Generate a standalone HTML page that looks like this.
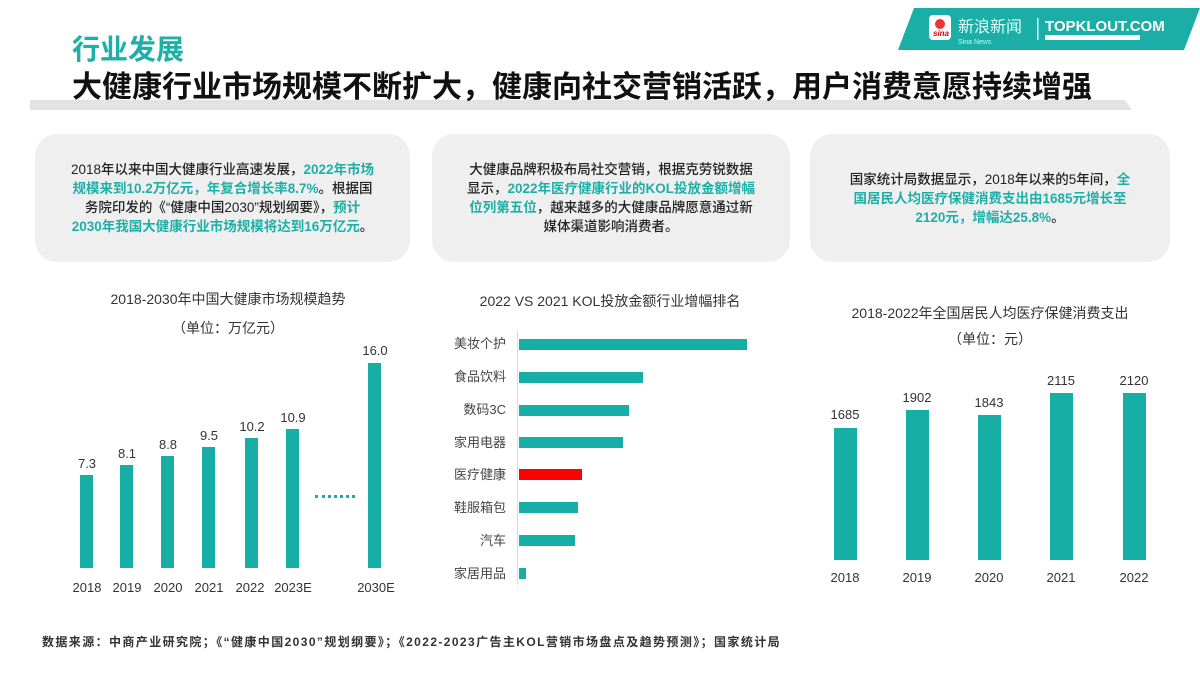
<!DOCTYPE html><html><head><meta charset="utf-8"><style>
body{margin:0;width:1200px;height:675px;background:#fff;position:relative;overflow:hidden;font-family:"Liberation Sans","Noto Sans CJK SC",sans-serif;}
.a{position:absolute;white-space:nowrap}
.card{position:absolute;background:#efefef;border-radius:22px;top:134px;height:128px;display:flex;align-items:center;justify-content:center;text-align:center;font-size:13.5px;line-height:19px;color:#222;font-weight:500}
.t{color:#1eafa7;font-weight:bold}
.bar{position:absolute;background:#17aea5}
.lbl{position:absolute;font-size:13px;color:#333;transform:translateX(-50%)}
.ct{position:absolute;font-size:14px;color:#333;transform:translateX(-50%);white-space:nowrap}
</style></head><body>
<svg class="a" style="left:0;top:0" width="1200" height="120">
<polygon points="914,8 1200,8 1184,50 898,50" fill="#1aaea6"/>
<rect x="929" y="15" width="22" height="25" rx="4" fill="#fff"/>
<circle cx="940" cy="24" r="5" fill="#e33"/>
<text x="933" y="36" font-size="8" fill="#c00" font-style="italic" font-weight="bold" font-family="Liberation Sans">sina</text>
<text x="958" y="32" font-size="16" fill="#dff" font-family="Noto Sans CJK SC">新浪新闻</text>
<text x="958" y="44" font-size="7" fill="#bfe" font-family="Liberation Sans">Sina News</text>
<rect x="1037" y="18" width="1.5" height="22" fill="#dff"/>
<text x="1045" y="31" font-size="15" fill="#fff" font-weight="bold" font-family="Liberation Sans">TOPKLOUT.COM</text>
<rect x="1045" y="35" width="95" height="5" fill="#fff"/>
<polygon points="30,100 1125,100 1132,110 30,110" fill="#e3e3e3"/>
</svg>
<div class="a" style="left:72px;top:28px;font-size:28px;font-weight:bold;color:#1eafa7">行业发展</div>
<div class="a" style="left:72px;top:62px;font-size:30px;font-weight:bold;color:#111">大健康行业市场规模不断扩大，健康向社交营销活跃，用户消费意愿持续增强</div>
<div class="card" style="left:35px;width:375px"><div>2018年以来中国大健康行业高速发展，<span class="t">2022年市场<br>规模来到10.2万亿元，年复合增长率8.7%</span>。根据国<br>务院印发的《“健康中国2030”规划纲要》，<span class="t">预计<br>2030年我国大健康行业市场规模将达到16万亿元</span>。</div></div>
<div class="card" style="left:432px;width:358px"><div>大健康品牌积极布局社交营销，根据克劳锐数据<br>显示，<span class="t">2022年医疗健康行业的KOL投放金额增幅<br>位列第五位</span>，越来越多的大健康品牌愿意通过新<br>媒体渠道影响消费者。</div></div>
<div class="card" style="left:810px;width:360px"><div>国家统计局数据显示，2018年以来的5年间，<span class="t">全<br>国居民人均医疗保健消费支出由1685元增长至<br>2120元，增幅达25.8%</span>。</div></div>

<div class="ct" style="left:228px;top:289px">2018-2030年中国大健康市场规模趋势</div>
<div class="ct" style="left:228px;top:318px">（单位：万亿元）</div>
<div class="bar" style="left:80px;top:475px;width:13px;height:93px"></div><div class="lbl" style="left:87px;top:456px">7.3</div><div class="lbl" style="left:87px;top:580px">2018</div>
<div class="bar" style="left:120px;top:465px;width:13px;height:103px"></div><div class="lbl" style="left:127px;top:446px">8.1</div><div class="lbl" style="left:127px;top:580px">2019</div>
<div class="bar" style="left:161px;top:456px;width:13px;height:112px"></div><div class="lbl" style="left:168px;top:437px">8.8</div><div class="lbl" style="left:168px;top:580px">2020</div>
<div class="bar" style="left:202px;top:447px;width:13px;height:121px"></div><div class="lbl" style="left:209px;top:428px">9.5</div><div class="lbl" style="left:209px;top:580px">2021</div>
<div class="bar" style="left:245px;top:438px;width:13px;height:130px"></div><div class="lbl" style="left:252px;top:419px">10.2</div><div class="lbl" style="left:250px;top:580px">2022</div>
<div class="bar" style="left:286px;top:429px;width:13px;height:139px"></div><div class="lbl" style="left:293px;top:410px">10.9</div><div class="lbl" style="left:293px;top:580px">2023E</div>
<div class="bar" style="left:368px;top:363px;width:13px;height:205px"></div><div class="lbl" style="left:375px;top:343px">16.0</div><div class="lbl" style="left:376px;top:580px">2030E</div>
<div class="a" style="left:315px;top:495px;width:40px;border-top:3px dotted #17aea5"></div>

<div class="ct" style="left:610px;top:291px">2022 VS 2021 KOL投放金额行业增幅排名</div>
<div class="a" style="left:517px;top:330px;width:1px;height:255px;background:#ddd"></div>
<div class="a" style="left:420px;top:336px;width:86px;text-align:right;font-size:13px;color:#444;line-height:16px">美妆个护</div>
<div class="a" style="left:420px;top:369px;width:86px;text-align:right;font-size:13px;color:#444;line-height:16px">食品饮料</div>
<div class="a" style="left:420px;top:402px;width:86px;text-align:right;font-size:13px;color:#444;line-height:16px">数码3C</div>
<div class="a" style="left:420px;top:435px;width:86px;text-align:right;font-size:13px;color:#444;line-height:16px">家用电器</div>
<div class="a" style="left:420px;top:467px;width:86px;text-align:right;font-size:13px;color:#444;line-height:16px">医疗健康</div>
<div class="a" style="left:420px;top:500px;width:86px;text-align:right;font-size:13px;color:#444;line-height:16px">鞋服箱包</div>
<div class="a" style="left:420px;top:533px;width:86px;text-align:right;font-size:13px;color:#444;line-height:16px">汽车</div>
<div class="a" style="left:420px;top:566px;width:86px;text-align:right;font-size:13px;color:#444;line-height:16px">家居用品</div>
<div class="bar" style="left:519px;top:339px;width:228px;height:11px"></div>
<div class="bar" style="left:519px;top:372px;width:124px;height:11px"></div>
<div class="bar" style="left:519px;top:405px;width:110px;height:11px"></div>
<div class="bar" style="left:519px;top:437px;width:104px;height:11px"></div>
<div class="bar" style="left:519px;top:469px;width:63px;height:11px;background:#f00"></div>
<div class="bar" style="left:519px;top:502px;width:59px;height:11px"></div>
<div class="bar" style="left:519px;top:535px;width:56px;height:11px"></div>
<div class="bar" style="left:519px;top:568px;width:7px;height:11px"></div>

<div class="ct" style="left:990px;top:303px">2018-2022年全国居民人均医疗保健消费支出</div>
<div class="ct" style="left:990px;top:329px">（单位：元）</div>
<div class="bar" style="left:834px;top:428px;width:23px;height:132px"></div><div class="lbl" style="left:845px;top:407px">1685</div><div class="lbl" style="left:845px;top:570px">2018</div>
<div class="bar" style="left:906px;top:410px;width:23px;height:150px"></div><div class="lbl" style="left:917px;top:390px">1902</div><div class="lbl" style="left:917px;top:570px">2019</div>
<div class="bar" style="left:978px;top:415px;width:23px;height:145px"></div><div class="lbl" style="left:989px;top:395px">1843</div><div class="lbl" style="left:989px;top:570px">2020</div>
<div class="bar" style="left:1050px;top:393px;width:23px;height:167px"></div><div class="lbl" style="left:1061px;top:373px">2115</div><div class="lbl" style="left:1061px;top:570px">2021</div>
<div class="bar" style="left:1123px;top:393px;width:23px;height:167px"></div><div class="lbl" style="left:1134px;top:373px">2120</div><div class="lbl" style="left:1134px;top:570px">2022</div>

<div class="a" style="left:42px;top:633px;font-size:12px;letter-spacing:1.4px;color:#333;font-weight:bold">数据来源：中商产业研究院；《“健康中国2030”规划纲要》；《2022-2023广告主KOL营销市场盘点及趋势预测》；国家统计局</div>
</body></html>
